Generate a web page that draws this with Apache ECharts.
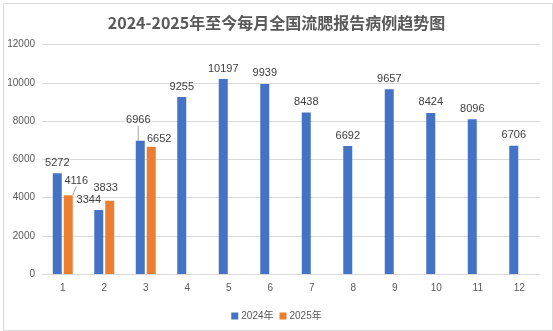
<!DOCTYPE html>
<html>
<head>
<meta charset="utf-8">
<script src="https://cdn.jsdelivr.net/npm/echarts@6/dist/echarts.min.js"></script>
<style>
html,body{margin:0;padding:0;background:#fff;}
#chart{width:553px;height:331px;}
</style>
</head>
<body>
<div id="chart"></div>
<script>
const titleText = '2024-2025年至今每月全国流腮报告病例趋势图';
const months = ['1','2','3','4','5','6','7','8','9','10','11','12'];
const seriesNames = ['2024年', '2025年'];
const values2024 = [5272, 3344, 6966, 9255, 10197, 9939, 8438, 6692, 9657, 8424, 8096, 6706];
const values2025 = [4116, 3833, 6652];
const yMin = 0, yMax = 12000, yInterval = 2000;

// label nudges (Excel-style manually placed labels)
const nudges = {
  '0-1': [-10, 0],
  '0-2': [-2, -10],
  '1-0': [8, -4],
  '1-1': [-4, -2],
  '1-2': [8, 3]
};
const leaderLines = {'0-2': true, '1-0': true};

function buildData(vals, si) {
  return vals.map((v, i) => {
    const key = si + '-' + i;
    if (leaderLines[key]) {
      return {value: v, labelLine: {show: true, lineStyle: {color: '#a6a6a6', width: 1}}};
    }
    return v;
  });
}

const chart = echarts.init(document.getElementById('chart'), null, {renderer: 'canvas'});
const labelStyle = {show: true, position: 'top', distance: 5, fontSize: 11, color: '#404040', fontFamily: '"Liberation Sans", Arial, sans-serif'};
chart.setOption({
  backgroundColor: '#ffffff',
  animation: false,
  title: {
    text: titleText,
    left: 'center',
    top: 10,
    textStyle: {fontSize: 16, fontWeight: 'bold', color: '#595959', fontFamily: '"Noto Sans CJK SC", sans-serif'}
  },
  graphic: [{
    type: 'rect', left: 1, top: 1,
    shape: {x: 0, y: 0, width: 549, height: 327},
    style: {fill: 'none', stroke: '#d9d9d9', lineWidth: 1},
    silent: true
  }],
  legend: {
    data: seriesNames,
    left: 'center',
    top: 306,
    icon: 'rect',
    itemWidth: 7,
    itemHeight: 7,
    itemGap: 6,
    textStyle: {fontSize: 10, color: '#595959', fontFamily: '"Liberation Sans", "Noto Sans CJK SC", sans-serif', padding: [0, 0, 0, -2]}
  },
  grid: {left: 42, right: 13, top: 44.5, bottom: 57, containLabel: false},
  xAxis: {
    type: 'category',
    data: months,
    axisLine: {show: true, lineStyle: {color: '#d9d9d9'}},
    axisTick: {show: false},
    axisLabel: {fontSize: 10, color: '#595959', margin: 9, fontFamily: '"Liberation Sans", Arial, sans-serif'}
  },
  yAxis: {
    type: 'value',
    min: yMin, max: yMax, interval: yInterval,
    axisLine: {show: false},
    axisTick: {show: false},
    splitLine: {lineStyle: {color: '#d9d9d9', width: 1}},
    axisLabel: {fontSize: 10, color: '#595959', margin: 7, fontFamily: '"Liberation Sans", Arial, sans-serif',
      formatter: function (v) { return String(v); }}
  },
  series: [
    {
      name: seriesNames[0], type: 'bar', data: buildData(values2024, 0),
      barWidth: 9, barGap: '22%',
      itemStyle: {color: '#4472C4'},
      label: labelStyle,
      labelLayout: function (p) {
        const n = nudges['0-' + p.dataIndex];
        return n ? {dx: n[0], dy: n[1]} : {};
      }
    },
    {
      name: seriesNames[1], type: 'bar', data: buildData(values2025, 1),
      barWidth: 9, barGap: '22%',
      itemStyle: {color: '#ED7D31'},
      label: labelStyle,
      labelLayout: function (p) {
        const n = nudges['1-' + p.dataIndex];
        return n ? {dx: n[0], dy: n[1]} : {};
      }
    }
  ]
});
</script>
</body>
</html>
